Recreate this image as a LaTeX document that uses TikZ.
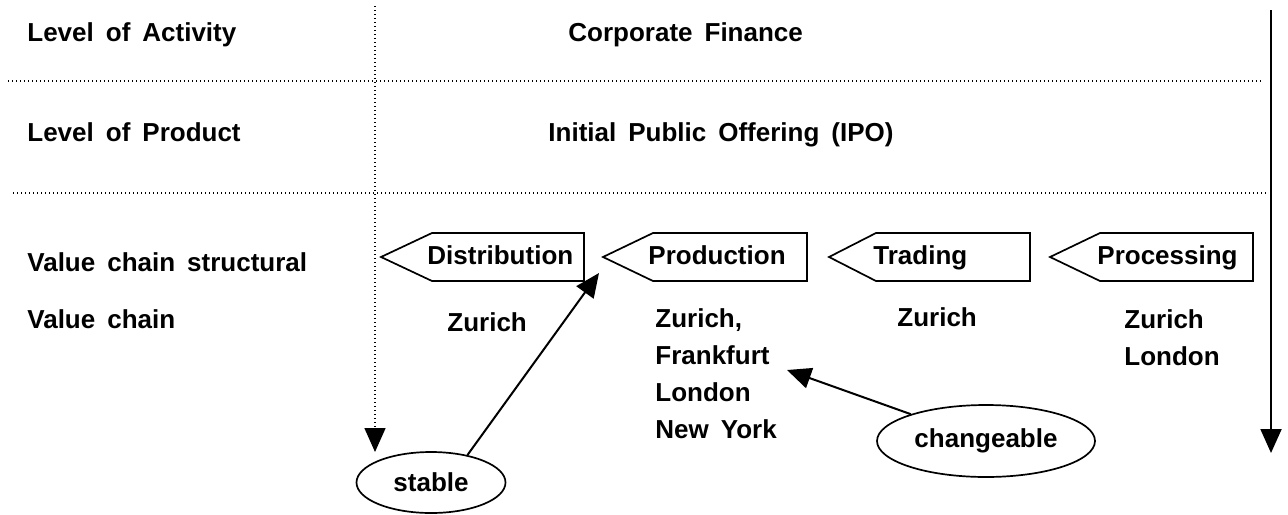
\documentclass[tikz,border=0pt]{standalone}
\usepackage{fontspec}
\setmainfont{Liberation Sans}
\usetikzlibrary{arrows.meta}
\usetikzlibrary{shapes.geometric}
\newcommand{\chartfont}{\fontsize{13}{18.5}\selectfont\bfseries\spaceskip=6pt\relax}
\tikzset{
  lbl/.style={anchor=base west,inner sep=0pt,font=\chartfont},
  places/.style={anchor=north west,inner sep=0pt,align=left,font=\chartfont},
  chainbox/.style={draw,line width=0.85pt,line join=miter},
  dots/.style={line width=0.8pt,dash pattern=on 0.7pt off 1.3pt},
  bubble/.style={ellipse,draw,line width=0.85pt,inner sep=0pt,font=\chartfont},
  tip/.style={-{Triangle[length=12pt,width=10.5pt]}},
}

\begin{document}
\begin{tikzpicture}[x=0.5pt,y=-0.5pt]
        \useasboundingbox (0,0) rectangle (1288,514);

        % frame lines
        \coordinate (H1a) at (8,81);
        \coordinate (H1b) at (1263,81);
        \coordinate (H2a) at (13,193);
        \coordinate (H2b) at (1268,193);
        \coordinate (V1) at (375,6);
        \coordinate (V2) at (375,452);
        \coordinate (R1) at (1271,10);
        \coordinate (R2) at (1271,453);
        \draw[dots] (H1a)--(H1b);
        \draw[dots] (H2a)--(H2b);
        \draw[dots,tip] (V1)--(V2);
        \draw[line width=1pt,tip] (R1)--(R2);

        % row labels
        \node[lbl] (activity) at (27,41.5) {Level of Activity};
        \node[lbl] (product) at (27,141.5) {Level of Product};
        \node[lbl] (structural) at (27,271) {Value chain structural};
        \node[lbl] (chain) at (27,328) {Value chain};
        \node[lbl] (finance) at (568,41.5) {Corporate Finance};
        \node[lbl] (ipo) at (548,141.5) {Initial Public Offering (IPO)};

        % value chain steps
        \coordinate (distTip) at (381,257);
        \draw[chainbox] (distTip)--++(51,-24)--++(152,0)--++(0,48)--++(-152,0)--cycle;
        \node[lbl] (dist) at (427,264) {Distribution};

        \coordinate (prodTip) at (603,257);
        \draw[chainbox] (prodTip)--++(50,-24)--++(154,0)--++(0,48)--++(-154,0)--cycle;
        \node[lbl] (prod) at (648,264) {Production};

        \coordinate (tradTip) at (829,257);
        \draw[chainbox] (tradTip)--++(47,-24)--++(154,0)--++(0,48)--++(-154,0)--cycle;
        \node[lbl] (trad) at (873,264) {Trading};

        \coordinate (procTip) at (1050,257);
        \draw[chainbox] (procTip)--++(50,-24)--++(153,0)--++(0,48)--++(-153,0)--cycle;
        \node[lbl] (proc) at (1097,264) {Processing};

        % locations
        \node[lbl] (distCity) at (447,331) {Zurich};
        \node[places] (prodCity) at (655,308) {Zurich,\\Frankfurt\\London\\New York};
        \node[lbl] (tradCity) at (897,326) {Zurich};
        \node[places] (procCity) at (1124,309) {Zurich\\London};

        % stable / changeable
        \node[bubble,minimum width=74.5pt,minimum height=30.5pt] (stable) at (431,482.5) {stable};
        \node[bubble,minimum width=109pt,minimum height=36pt] (chg) at (986,441) {changeable};
        \coordinate (stableTo) at (599,273);
        \coordinate (chgTo) at (787,370);
        \draw[line width=1pt,tip] (stable.37)--(stableTo);
        \draw[line width=1pt,tip] (chg)--(chgTo);
\end{tikzpicture}
\end{document}
